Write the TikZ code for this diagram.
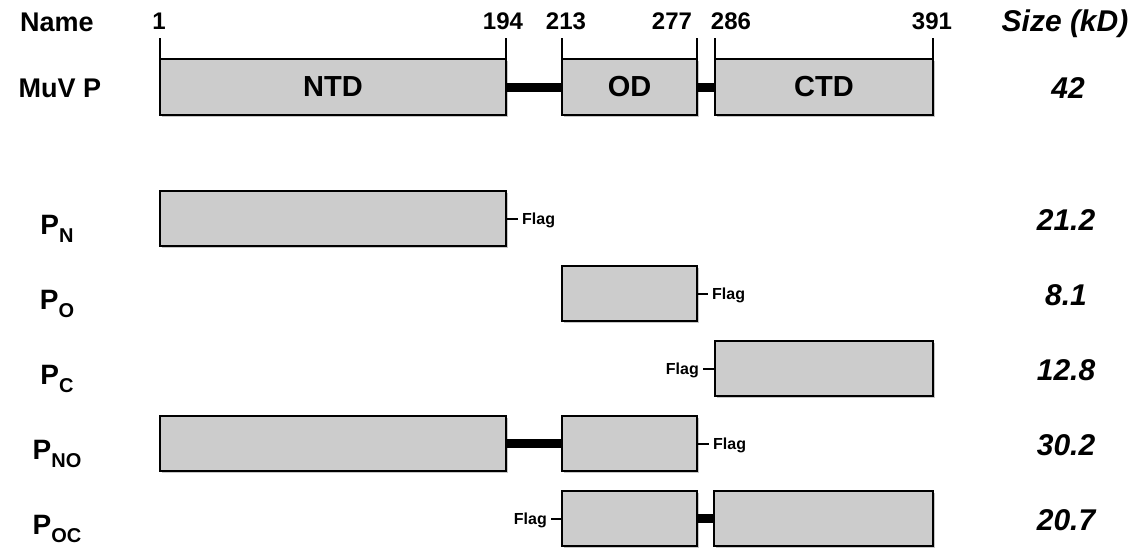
\documentclass[tikz,border=0pt]{standalone}
\usepackage{fontspec}
\setmainfont{Liberation Sans}
\usetikzlibrary{shadows}
\definecolor{boxgray}{HTML}{CCCCCC}
\newcommand{\psub}[1]{P\raisebox{-8pt}{\fontsize{20}{20}\selectfont #1}}
\begin{document}
\begin{tikzpicture}[x=1pt,y=-1pt,
  dom/.style={draw=black, line width=2.6pt, fill=boxgray, inner sep=0pt, outer sep=0pt,
    minimum height=55pt, font=\fontsize{29}{29}\selectfont\bfseries,
    drop shadow={shadow xshift=1.5pt, shadow yshift=-2pt, opacity=0.22, fill=black}},
  tickline/.style={line width=2pt},
  linker/.style={line width=9pt},
  flagline/.style={line width=2pt},
  flagtxt/.style={font=\fontsize{16}{16}\selectfont\bfseries, inner sep=4pt},
  numtxt/.style={font=\fontsize{24}{24}\selectfont\bfseries, anchor=base, inner sep=0pt},
  headtxt/.style={font=\fontsize{27}{27}\selectfont\bfseries, anchor=base, inner sep=0pt},
  sizetxt/.style={font=\fontsize{30}{30}\selectfont\bfseries\itshape, anchor=base, inner sep=0pt},
  rowtxt/.style={font=\fontsize{28}{28}\selectfont\bfseries, anchor=base, inner sep=0pt}]
\useasboundingbox (0,0) rectangle (1142,552);

% header
\node[headtxt] (hname) at (57,31) {Name};
\node[sizetxt] (hsize) at (1065,31) {Size (kD)};
\node[numtxt] (n1) at (159,29) {1};
\node[numtxt] (n194) at (503,29) {194};
\node[numtxt] (n213) at (566,29) {213};
\node[numtxt] (n277) at (672,29) {277};
\node[numtxt] (n286) at (731,29) {286};
\node[numtxt] (n391) at (932,29) {391};

% MuV P
\node[rowtxt, font=\fontsize{27}{27}\selectfont\bfseries] (lmuv) at (60,97) {MuV P};
\draw[linker] (506,87) coordinate (la) -- (562,87) coordinate (lb);
\draw[linker] (697,87) coordinate (lc) -- (715,87) coordinate (ld);
\node[dom, minimum width=346pt, minimum height=56pt] (ntd) at (333,87) {\raisebox{-1pt}{NTD}};
\node[dom, minimum width=135pt, minimum height=56pt] (od) at (629.5,87) {\raisebox{-1pt}{OD}};
\node[dom, minimum width=218pt, minimum height=56pt] (ctd) at (824,87) {\raisebox{-1pt}{CTD}};
\draw[tickline] (ntd.north west) -- ++(0,-21);
\draw[tickline] (ntd.north east) -- ++(0,-21);
\draw[tickline] (od.north west) -- ++(0,-21);
\draw[tickline] (od.north east) -- ++(0,-21);
\draw[tickline] (ctd.north west) -- ++(0,-21);
\draw[tickline] (ctd.north east) -- ++(0,-21);
\node[sizetxt] (s42) at (1068,98) {42};

% P_N
\node[rowtxt] (lpn) at (57,234) {\psub{N}};
\node[dom, minimum width=346pt] (pn) at (333,218.5) {};
\node[flagtxt, anchor=base west] (fpn) at (518,224.5) {Flag};
\draw[flagline] (pn.east) -- (pn.east -| fpn.west);
\node[sizetxt] (s212) at (1066,230.5) {21.2};

% P_O
\node[rowtxt] (lpo) at (57,309) {\psub{O}};
\node[dom, minimum width=135pt] (po) at (629.5,293.5) {};
\node[flagtxt, anchor=base west] (fpo) at (708,299.5) {Flag};
\draw[flagline] (po.east) -- (po.east -| fpo.west);
\node[sizetxt] (s81) at (1066,305.5) {8.1};

% P_C
\node[rowtxt] (lpc) at (57,384) {\psub{C}};
\node[dom, minimum width=218pt] (pc) at (824,368.5) {};
\node[flagtxt, anchor=base east] (fpc) at (703,374.5) {Flag};
\draw[flagline] (pc.west) -- (pc.west -| fpc.east);
\node[sizetxt] (s128) at (1066,380.5) {12.8};

% P_NO
\node[rowtxt] (lpno) at (57,459) {\psub{NO}};
\draw[linker] (506,443.5) coordinate (noa) -- (562,443.5) coordinate (nob);
\node[dom, minimum width=346pt] (pno1) at (333,443.5) {};
\node[dom, minimum width=135pt] (pno2) at (629.5,443.5) {};
\node[flagtxt, anchor=base west] (fpno) at (709,449.5) {Flag};
\draw[flagline] (pno2.east) -- (pno2.east -| fpno.west);
\node[sizetxt] (s302) at (1066,455.5) {30.2};

% P_OC
\node[rowtxt] (lpoc) at (57,534) {\psub{OC}};
\draw[linker] (697,518.5) coordinate (oca) -- (714,518.5) coordinate (ocb);
\node[dom, minimum width=135pt] (poc1) at (629.5,518.5) {};
\node[dom, minimum width=219pt] (poc2) at (823.5,518.5) {};
\node[flagtxt, anchor=base east] (fpoc) at (551,524.5) {Flag};
\draw[flagline] (poc1.west) -- (poc1.west -| fpoc.east);
\node[sizetxt] (s207) at (1066,530.5) {20.7};
\end{tikzpicture}
\end{document}
